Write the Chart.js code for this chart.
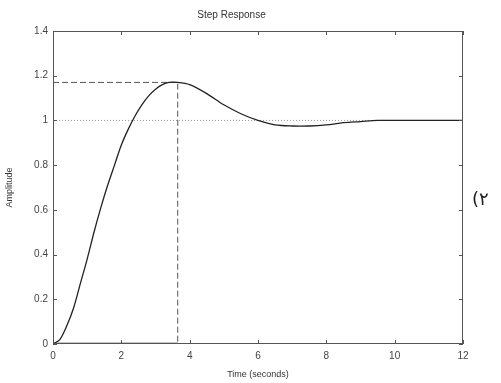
<!DOCTYPE html>
<html>
<head>
<meta charset="utf-8">
<script src="https://cdn.jsdelivr.net/npm/chart.js@4"></script>
<style>
  html, body { margin: 0; padding: 0; background: #fff; }
  #box { width: 501px; height: 383px; }
</style>
</head>
<body>
<div id="box"><canvas id="grafico"></canvas></div>
<script>
// dados
const tempo = [0, 0.2, 0.4, 0.6, 0.8, 1.0, 1.2, 1.4, 1.6, 1.8, 2.0, 2.2, 2.4, 2.6, 2.8, 3.0, 3.2, 3.4, 3.65, 4.0, 4.5, 5.0, 5.5, 6.0, 6.5, 7.0, 7.5, 8.0, 8.5, 9.0, 9.5, 10, 11, 12];
const amplitude = [0, 0.02, 0.08, 0.16, 0.27, 0.38, 0.50, 0.61, 0.71, 0.80, 0.89, 0.96, 1.02, 1.07, 1.11, 1.14, 1.16, 1.17, 1.17, 1.16, 1.12, 1.07, 1.03, 1.0, 0.98, 0.975, 0.975, 0.98, 0.99, 0.995, 1.0, 1.0, 1.0, 1.0];
const tempoPico = 3.65;
const valorPico = 1.17;
const valorFinal = 1;
const ticksX = [0, 2, 4, 6, 8, 10, 12];
const ticksY = [0, 0.2, 0.4, 0.6, 0.8, 1, 1.2, 1.4];
const rotulosY = ['0', '0.2', '0.4', '0.6', '0.8', '1', '1.2', '1.4'];

const pontos = tempo.map((t, i) => ({ x: t, y: amplitude[i] }));

// moldura e marcas internas estilo matlab
const moldura = {
    id: 'moldura',
    afterDraw(chart) {
        const ctx = chart.ctx;
        const a = chart.chartArea;
        const sx = chart.scales.x, sy = chart.scales.y;
        ctx.save();
        ctx.strokeStyle = '#555';
        ctx.lineWidth = 1;
        ctx.strokeRect(a.left + 0.5, a.top + 0.5, a.right - a.left - 1, a.bottom - a.top - 1);
        ctx.beginPath();
        ticksX.forEach(v => {
            const px = Math.round(sx.getPixelForValue(v)) + 0.5;
            ctx.moveTo(px, a.bottom); ctx.lineTo(px, a.bottom - 4);
            ctx.moveTo(px, a.top); ctx.lineTo(px, a.top + 4);
        });
        ticksY.forEach(v => {
            const py = Math.round(sy.getPixelForValue(v)) + 0.5;
            ctx.moveTo(a.left, py); ctx.lineTo(a.left + 4, py);
            ctx.moveTo(a.right, py); ctx.lineTo(a.right - 4, py);
        });
        ctx.stroke();
        // texto ao lado
        ctx.fillStyle = '#222';
        ctx.font = '18px "DejaVu Sans"';
        ctx.textBaseline = 'middle';
        ctx.fillText('(\u0662', 472, 200);
        ctx.restore();
    }
};

const graficoResposta = document.getElementById('grafico');
new Chart(graficoResposta, {
    type: 'line',
    data: {
        datasets: [
            {
                data: pontos,
                borderColor: '#222',
                borderWidth: 1.3,
                pointRadius: 0,
                tension: 0.3
            },
            {
                data: [{ x: 0, y: valorFinal }, { x: 12, y: valorFinal }],
                borderColor: '#999',
                borderWidth: 1,
                borderDash: [1, 2],
                pointRadius: 0
            },
            {
                data: [{ x: 0, y: valorPico }, { x: tempoPico, y: valorPico }, { x: tempoPico, y: 0 }],
                borderColor: '#555',
                borderWidth: 1,
                borderDash: [6, 3],
                pointRadius: 0
            },
            {
                data: [{ x: 0, y: 0 }, { x: tempoPico, y: 0 }],
                borderColor: '#111',
                borderWidth: 2.5,
                pointRadius: 0
            }
        ]
    },
    options: {
        responsive: true,
        maintainAspectRatio: false,
        animation: false,
        layout: { padding: { top: 0, right: 38, left: 0, bottom: 0 } },
        plugins: {
            legend: { display: false },
            tooltip: { enabled: false },
            title: {
                display: true,
                text: 'Step Response',
                color: '#333',
                font: { family: 'Liberation Sans', size: 10, weight: 'normal' },
                padding: { top: 9, bottom: 10 }
            }
        },
        scales: {
            x: {
                type: 'linear',
                min: 0,
                max: 12,
                afterFit(scale) { scale.height = 39; },
                afterBuildTicks(scale) { scale.ticks = ticksX.map(v => ({ value: v })); },
                grid: { display: false, drawTicks: false },
                border: { display: false },
                ticks: { color: '#444', padding: 6, maxRotation: 0, font: { family: 'Liberation Sans', size: 10 } },
                title: {
                    display: true,
                    text: 'Time (seconds)',
                    color: '#333',
                    padding: { top: 2, bottom: 3 },
                    font: { family: 'Liberation Sans', size: 9 }
                }
            },
            y: {
                min: 0,
                max: 1.4,
                afterFit(scale) { scale.width = 53; },
                afterBuildTicks(scale) { scale.ticks = ticksY.map(v => ({ value: v })); },
                grid: { display: false, drawTicks: false },
                border: { display: false },
                ticks: {
                    color: '#444',
                    padding: 5,
                    font: { family: 'Liberation Sans', size: 10 },
                    callback: (v, i) => rotulosY[i]
                },
                title: {
                    display: true,
                    text: 'Amplitude',
                    color: '#333',
                    padding: { top: 4, bottom: 0 },
                    font: { family: 'Liberation Sans', size: 9 }
                }
            }
        }
    },
    plugins: [moldura]
});
</script>
</body>
</html>
